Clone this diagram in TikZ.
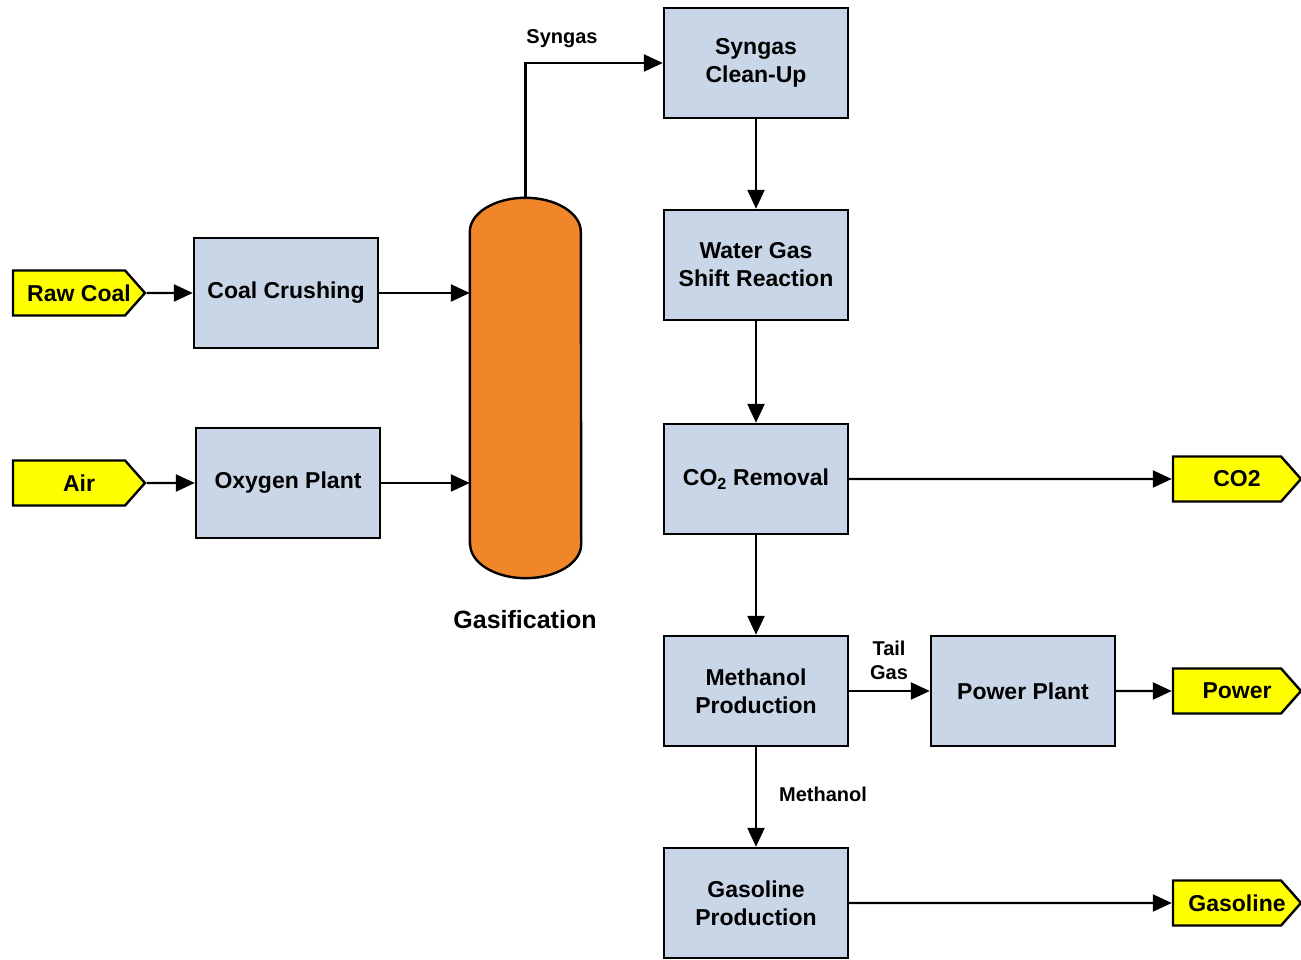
\documentclass[tikz,border=0pt]{standalone}
\usepackage{fontspec}
\setmainfont{Liberation Sans}
\usetikzlibrary{calc,arrows.meta,shapes.symbols}
\definecolor{boxblue}{RGB}{201,214,231}
\definecolor{gasorange}{RGB}{240,133,42}
\definecolor{tagyellow}{RGB}{255,255,0}

\begin{document}
\begin{tikzpicture}[x=1pt,y=1pt,
  unit/.style={draw,line width=2.4pt,fill=boxblue,minimum width=184pt,minimum height=110pt,
    align=center,font=\fontsize{23}{28}\selectfont\bfseries},
  tag/.style={draw,line width=2.4pt,fill=tagyellow,shape=signal,signal to=east,signal pointer angle=97,
    minimum height=45pt,inner sep=0pt,
    execute at begin node={\hspace*{10pt}},execute at end node={\hspace*{-10pt}},
    font=\fontsize{23}{28}\selectfont\bfseries},
  lbl/.style={align=center,font=\fontsize{20}{24}\selectfont\bfseries},
  arr/.style={line width=2.4pt,-{Triangle[length=19pt,width=17pt]}}]
  \useasboundingbox (0,0) rectangle (1301,960);
  % feeds
  \node[tag,minimum width=132pt] (coal) at (69,667) {Raw Coal};
  \node[tag,minimum width=132pt] (air) at (69,477) {Air};
  \node[unit] (crush) at (286,667) {Coal Crushing};
  \node[unit] (oxy) at (288,477) {Oxygen Plant};
  % gasifier
  \node[minimum width=111pt,minimum height=380pt,inner sep=0pt] (gas) at (525.5,572) {};
  \draw[line width=2.4pt,fill=gasorange] ($(gas.south west)+(0,34)$) -- ($(gas.north west)+(0,-34)$)
    arc[start angle=180,end angle=0,x radius=55.5,y radius=34] -- ($(gas.south east)+(0,34)$)
    arc[start angle=0,end angle=-180,x radius=55.5,y radius=34] -- cycle;
  \node[font=\fontsize{25}{30}\selectfont\bfseries] (gaslbl) at (525,340) {Gasification};
  % main train
  \node[unit] (clean) at (756,897) {Syngas\\Clean-Up};
  \node[unit] (shift) at (756,695) {Water Gas\\Shift Reaction};
  \node[unit] (co2r) at (756,481) {CO\textsubscript{2} Removal};
  \node[unit] (meoh) at (756,269) {Methanol\\Production};
  \node[unit] (gasol) at (756,57) {Gasoline\\Production};
  \node[unit] (power) at (1023,269) {Power Plant};
  % products
  \node[tag,minimum width=128pt] (co2) at (1227,481) {CO2};
  \node[tag,minimum width=128pt] (elec) at (1227,269) {Power};
  \node[tag,minimum width=128pt] (fuel) at (1227,57) {Gasoline};
  % streams
  \draw[arr] (coal) -- (crush);
  \draw[arr] (air) -- (oxy);
  \draw[arr] (crush) -- (crush -| gas.west);
  \draw[arr] (oxy) -- (oxy -| gas.west);
  \draw[arr] (gas.north) |- (clean.west);
  \node[lbl] (syn) at (562,921) {Syngas};
  \draw[arr] (clean) -- (shift);
  \draw[arr] (shift) -- (co2r);
  \draw[arr] (co2r) -- (co2);
  \draw[arr] (co2r) -- (meoh);
  \draw[arr] (meoh) -- (power);
  \node[lbl] (tail) at (889,300) {Tail\\Gas};
  \draw[arr] (power) -- (elec);
  \draw[arr] (meoh) -- (gasol);
  \node[lbl] (meohlbl) at (823,166) {Methanol};
  \draw[arr] (gasol) -- (fuel);
\end{tikzpicture}
\end{document}
